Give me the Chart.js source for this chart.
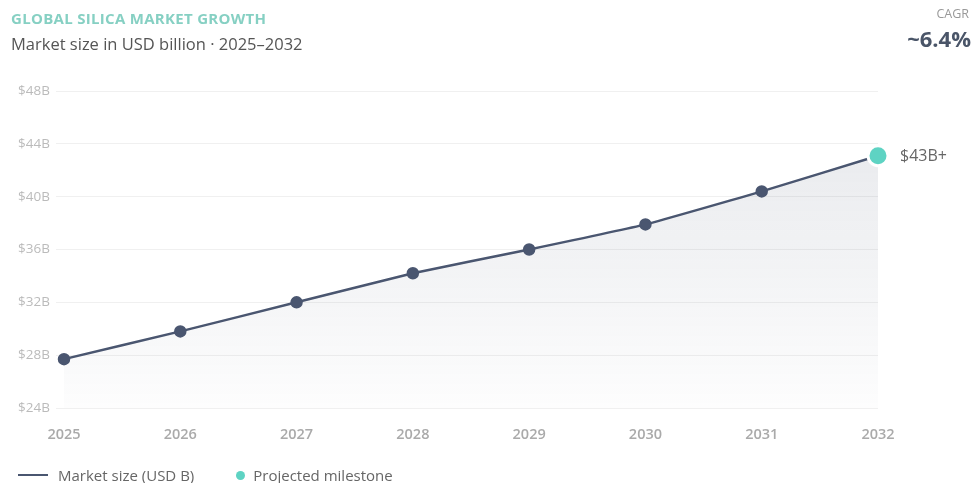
<!DOCTYPE html>
<html><head><meta charset="utf-8">
<script src="https://cdn.jsdelivr.net/npm/chart.js@4"></script>
<style>
html,body{margin:0;padding:0;background:#fff;width:973px;height:483px;overflow:hidden;font-family:"Open Sans",sans-serif;}
#wrap{position:absolute;left:0;top:0;width:973px;height:483px;}
#title{position:absolute;left:11px;top:8px;font-size:15px;font-weight:700;color:#86d0c3;letter-spacing:0.3px;}
#sub{position:absolute;left:11px;top:32px;font-size:16.5px;color:#555;}
#cagrL{position:absolute;right:4px;top:5px;font-size:12.5px;color:#999;}
#cagrV{position:absolute;right:2px;top:23px;font-size:22px;font-weight:700;color:#4a5568;}
#legend{position:absolute;left:18px;top:465px;font-size:15px;color:#666;display:flex;align-items:center;}
.ln{display:inline-block;width:30px;height:2px;background:#4a5670;margin-right:10px;}
.dot{display:inline-block;width:9px;height:9px;border-radius:50%;background:#5ed3c3;margin-left:42px;margin-right:8px;}
</style></head><body>
<div id="wrap"><canvas id="c" width="973" height="483"></canvas></div>
<div id="title">GLOBAL SILICA MARKET GROWTH</div>
<div id="sub">Market size in USD billion · 2025–2032</div>
<div id="cagrL">CAGR</div>
<div id="cagrV">~6.4%</div>
<div id="legend"><span class="ln"></span>Market size (USD B)<span class="dot"></span>Projected milestone</div>
<script>
const years = ["2025","2026","2027","2028","2029","2030","2031","2032"];
const marketSize = [27.7, 29.8, 32.0, 34.2, 36.0, 37.9, 40.4, 43.1];
const milestone = [null, null, null, null, null, null, null, 43.1];
const milestoneLabel = "$43B+";
const yMin = 24, yMax = 48, yStep = 4;

const lineColor = '#4a5670';
const labelPlugin = {
  id:'msLabel',
  afterDatasetsDraw(chart){
    const meta = chart.getDatasetMeta(1);
    const idx = milestone.findIndex(v => v !== null);
    const el = meta.data[idx];
    if(!el) return;
    const ctx = chart.ctx;
    ctx.save();
    ctx.font = '16px "Open Sans", sans-serif';
    ctx.fillStyle = '#666';
    ctx.textAlign = 'left';
    ctx.textBaseline = 'middle';
    ctx.fillText(milestoneLabel, el.x + 22, el.y + 1);
    ctx.restore();
  }
};

new Chart(document.getElementById('c'), {
  type:'line',
  data:{
    labels: years,
    datasets:[
      {
        order: 2,
        data: marketSize,
        borderColor: lineColor,
        borderWidth: 2.5,
        pointRadius: 5,
        pointHoverRadius: 5,
        pointBackgroundColor: lineColor,
        pointBorderColor: lineColor,
        tension: 0.12,
        fill: 'start',
        backgroundColor(ctx){
          const ca = ctx.chart.chartArea;
          if(!ca) return 'rgba(74,86,112,0.08)';
          const g = ctx.chart.ctx.createLinearGradient(0, ca.top, 0, ca.bottom);
          g.addColorStop(0, 'rgba(74,86,112,0.14)');
          g.addColorStop(1, 'rgba(74,86,112,0.01)');
          return g;
        }
      },
      {
        order: 1,
        data: milestone,
        showLine: false,
        pointRadius: 10,
        pointHoverRadius: 10,
        pointBackgroundColor: '#5ed3c3',
        pointBorderColor: '#ffffff',
        pointBorderWidth: 3,
        fill: false
      }
    ]
  },
  options:{
    responsive:false,
    animation:false,
    layout:{padding:{left:0,right:95,top:91,bottom:35}},
    plugins:{legend:{display:false},tooltip:{enabled:false}},
    scales:{
      x:{
        grid:{display:false, drawTicks:false},
        border:{display:false},
        ticks:{padding:18, color:'#aaa', font:{family:'"Open Sans", sans-serif', size:14.5, weight:'600'}, maxRotation:0},
        afterFit(s){ s.height = 40; }
      },
      y:{
        min:yMin, max:yMax,
        grid:{color:'#f0f0f0', tickLength:8, drawTicks:true},
        border:{display:false},
        ticks:{stepSize:yStep, padding:6, color:'#bbb', font:{family:'"Open Sans", sans-serif', size:13.5},
          callback:v => '$' + v + 'B'},
        afterFit(s){ s.width = 64; }
      }
    }
  },
  plugins:[labelPlugin]
});
</script>
</body></html>
